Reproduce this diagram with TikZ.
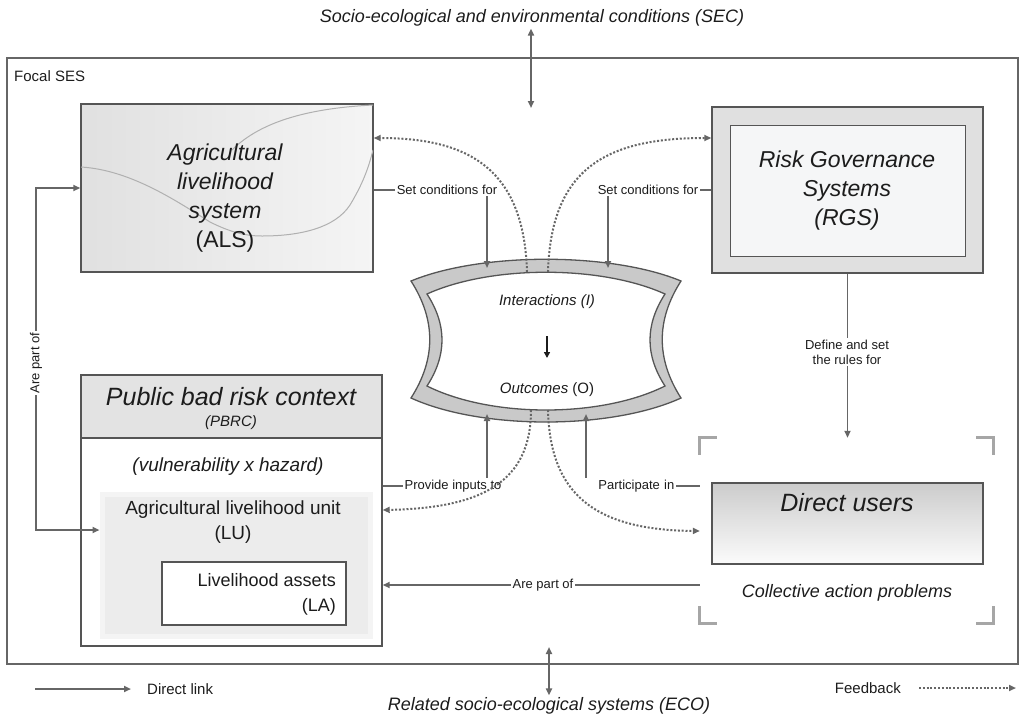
\documentclass[tikz,border=0pt]{standalone}
\usepackage{fontspec}
\setmainfont{Liberation Sans}
\usetikzlibrary{arrows.meta,calc}

\definecolor{ink}{HTML}{1C1C1C}
\definecolor{edge}{HTML}{555555}
\definecolor{wire}{HTML}{666666}
\definecolor{band}{HTML}{C9C9C9}
\definecolor{paleblue}{HTML}{F5F6F7}
\newcommand{\fsz}[2]{\fontsize{#1}{#2}\selectfont}

\tikzset{
  >={Triangle[length=7pt,width=6pt]},
  dlink/.style={draw=wire, line width=1.8pt},
  fback/.style={draw=wire, line width=2pt, dash pattern=on 2pt off 1.8pt},
  lbl/.style={fill=white, text=ink, inner sep=1.5pt, font=\fsz{13}{15}},
  boxed/.style={draw=edge, line width=1.4pt, inner sep=0pt},
  bigtext/.style={text=ink, align=center, font=\fsz{23}{29}\itshape},
  txt/.style={text=ink, inner sep=2pt},
  leaf/.style={draw=gray!62, line width=1pt},
  bracket/.style={draw=gray!70, line width=2.8pt},
}

\begin{document}
\begin{tikzpicture}[x=1pt,y=-1pt]
\path[use as bounding box] (0,0) rectangle (1020,721);

% ---------- focal SES frame and outer systems ----------
\node[boxed, draw=wire, line width=1.7pt, minimum width=1011pt, minimum height=606pt, anchor=north west] (SES) at (6,57) {};
\node[txt, anchor=west, font=\fsz{15}{18}] (focal) at (12,76) {Focal SES};

\node[txt, font=\fsz{18}{21}\itshape] (SEC) at (532,18) {Socio-ecological and environmental conditions (SEC)};
\coordinate (secfoot) at (531,108);
\draw[dlink,<->] (SEC.south -| secfoot) -- (secfoot);

\node[txt, font=\fsz{18}{21}\itshape] (ECO) at (549,706) {Related socio-ecological systems (ECO)};
\coordinate (ecohead) at (549,647);
\draw[dlink,<->] (ecohead) -- (ECO.north -| ecohead);

% ---------- agricultural livelihood system ----------
\node[boxed, left color=gray!24, right color=gray!8, minimum width=292pt, minimum height=168pt] (ALS) at (227,188) {};
\begin{scope}
  \clip (81,104) rectangle (373,272);
  \draw[leaf] (81,167) .. controls (130,170) and (175,200) .. (210,222)
              .. controls (230,232) and (245,236) .. (262,236)
              .. controls (300,236) and (335,228) .. (350,205)
              .. controls (362,185) and (368,170) .. (373,150);
  \draw[leaf] (373,105) .. controls (313,108) and (262,120) .. (232,150);
\end{scope}
\node[bigtext] (ALSt) at (225,198) {Agricultural\\livelihood\\system\\{\upshape(ALS)}};

% ---------- risk governance systems ----------
\node[boxed, fill=gray!24, minimum width=271pt, minimum height=166pt] (RGS) at (847.5,190) {};
\node[boxed, line width=1pt, fill=paleblue, minimum width=235pt, minimum height=131pt] (RGSin) at (847.5,190.5) {};
\node[bigtext] (RGSt) at (847,191) {Risk Governance\\Systems\\(RGS)};

% ---------- action situation: interactions and outcomes ----------
\filldraw[fill=band, draw=edge, line width=1.3pt]
  (411,281) .. controls (481,252) and (611,252) .. (681,281)
  .. controls (656,320) and (656,359) .. (681,398)
  .. controls (611,430) and (481,430) .. (411,398)
  .. controls (436,359) and (436,320) .. (411,281) -- cycle;
\filldraw[fill=white, draw=edge, line width=1.3pt]
  (427,294) .. controls (491,265) and (601,265) .. (665,294)
  .. controls (645,325) and (645,355) .. (665,386)
  .. controls (601,418) and (491,418) .. (427,386)
  .. controls (447,355) and (447,325) .. (427,294) -- cycle;
\node[txt, font=\fsz{15}{18}\itshape] (INT) at (547,302) {Interactions (I)};
\node[txt, font=\fsz{15}{18}] (OUT) at (547,390) {\textit{Outcomes} (O)};
\draw[draw=ink, line width=1.8pt, -{Triangle[length=6pt,width=6pt]}] (INT.south |- 0,336) -- (INT.south |- 0,358);

% points where connectors meet the action situation
\coordinate (inA) at (487,268);
\coordinate (inB) at (608,268);
\coordinate (inC) at (487,414);
\coordinate (inD) at (586,414);
\coordinate (fbA) at (527,272);
\coordinate (fbB) at (548,272);
\coordinate (fbC) at (531,410);
\coordinate (fbD) at (548,410);

% ---------- public bad risk context ----------
\node[boxed, fill=white, minimum width=301pt, minimum height=271pt] (PBRC) at (231.5,510.5) {};
\node[boxed, fill=gray!22, minimum width=301pt, minimum height=63pt] (PBh) at (231.5,406.5) {};
\node[txt, font=\fsz{25}{28}\itshape] (PBt) at (231,397) {Public bad risk context};
\node[txt, font=\fsz{15}{17}\itshape] (PBs) at (231,423) {(PBRC)};
\node[txt, font=\fsz{19}{22}\itshape] (VH) at (228,467) {(vulnerability x hazard)};

\node[draw=gray!9, line width=5pt, fill=gray!15, minimum width=268pt, minimum height=142pt, inner sep=0] (LU) at (236,565) {};
\node[txt, align=center, font=\fsz{19}{25}] (LUt) at (233,522) {Agricultural livelihood unit\\(LU)};
\node[boxed, fill=white, minimum width=184pt, minimum height=63pt] (LA) at (254,593.5) {};
\node[txt, anchor=east, align=right, font=\fsz{18}{25}] (LAt) at (338,594) {Livelihood assets\\(LA)};

% ---------- direct users and collective action problems ----------
\node[minimum width=293pt, minimum height=185pt, inner sep=0] (CAP) at (846.5,530.5) {};
\draw[bracket] ($(CAP.north west)+(0,17)$) -- (CAP.north west) -- ++(17,0);
\draw[bracket] ($(CAP.north east)+(-17,0)$) -- (CAP.north east) -- ++(0,17);
\draw[bracket] ($(CAP.south west)+(0,-17)$) -- (CAP.south west) -- ++(17,0);
\draw[bracket] ($(CAP.south east)+(-17,0)$) -- (CAP.south east) -- ++(0,-17);
\node[boxed, top color=gray!40, bottom color=gray!3, minimum width=271pt, minimum height=81pt] (DU) at (847.5,523.5) {};
\node[txt, font=\fsz{25}{28}\itshape] (DUt) at (847,503) {Direct users};
\node[txt, font=\fsz{18}{21}\itshape] (CAPt) at (847,593) {Collective action problems};

% ---------- direct links ----------
\coordinate (rowA) at (0,190);
\coordinate (rowB) at (0,486);
\coordinate (rowC) at (0,585);
\coordinate (rowD) at (0,188);
\coordinate (rowE) at (0,530);
\coordinate (spine) at (36,0);

\draw[dlink,->] (ALS.east |- rowA) -| (inA);
\node[lbl] (sc1) at (447,190) {Set conditions for};

\draw[dlink,->] (RGS.west |- rowA) -| (inB);
\node[lbl] (sc2) at (648,190) {Set conditions for};

\draw[dlink,->] (RGS.south) -- (RGS.south |- CAP.north);
\node[lbl, align=center, font=\fsz{13}{15}] (rules) at (847,352) {Define and set\\the rules for};

\draw[dlink,->] (PBRC.east |- rowB) -| (inC);
\node[lbl] (inp) at (453,486) {Provide inputs to};

\draw[dlink,->] (CAP.west |- rowB) -| (inD);
\node[lbl, anchor=east, text width=92pt, align=right] (part) at (676,486) {Participate in};

\draw[dlink,->] (CAP.west |- rowC) -- (PBRC.east |- rowC);
\node[lbl] (apo1) at (543,585) {Are part of};

\draw[dlink,<->] (LU.west |- rowE) -- (spine |- rowE) -- (spine |- rowD) -- (ALS.west |- rowD);
\node[lbl, rotate=90] (apo2) at (36,363) {Are part of};

% ---------- feedback ----------
\coordinate (rowF) at (0,138);
\coordinate (rowG) at (0,510);
\coordinate (rowH) at (0,531);
\draw[fback,->] (fbA) .. controls (524,170) and (470,138) .. (ALS.east |- rowF);
\draw[fback,->] (fbB) .. controls (551,170) and (604,138) .. (RGS.west |- rowF);
\draw[fback,->] (fbC) .. controls (531,482) and (482,508) .. (PBRC.east |- rowG);
\draw[fback,->] (fbD) .. controls (550,492) and (592,530) .. (CAP.west |- rowH);

% ---------- legend ----------
\node[txt, anchor=west, font=\fsz{15}{18}] (DLk) at (145,689) {Direct link};
\coordinate (dl0) at (35,689);
\draw[dlink,->] (dl0) -- ($(DLk.west)+(-14,0)$);
\node[txt, anchor=east, font=\fsz{15}{18}] (FBk) at (903,688) {Feedback};
\coordinate (fb1) at (1016,688);
\draw[fback,->] ($(FBk.east)+(16,0)$) -- (fb1);
\end{tikzpicture}
\end{document}
